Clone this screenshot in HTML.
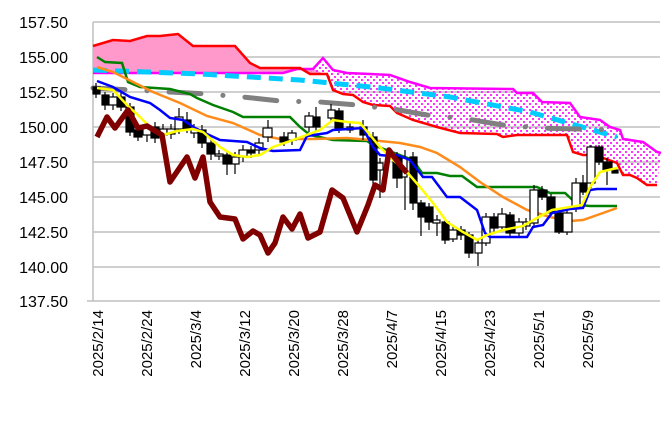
<!DOCTYPE html>
<html><head><meta charset="utf-8"><style>
body{margin:0;background:#fff}
svg{display:block;font-family:"Liberation Sans",sans-serif}
</style></head><body>
<svg width="664" height="438" viewBox="0 0 664 438">
<defs>
<pattern id="dots" width="6" height="6" patternUnits="userSpaceOnUse">
<rect x="1" y="1" width="2" height="2" fill="#ff33ff"/><rect x="4" y="4" width="2" height="2" fill="#ff33ff"/>
</pattern>
</defs>
<g stroke="#bfbfbf" stroke-width="1.5">
<line x1="93" y1="22" x2="660" y2="22"/><line x1="93" y1="57" x2="660" y2="57"/><line x1="93" y1="92" x2="660" y2="92"/><line x1="93" y1="127" x2="660" y2="127"/><line x1="93" y1="162" x2="660" y2="162"/><line x1="93" y1="197" x2="660" y2="197"/><line x1="93" y1="232" x2="660" y2="232"/><line x1="93" y1="267" x2="660" y2="267"/><line x1="87" y1="301" x2="660" y2="301"/>
<line x1="93" y1="22" x2="93" y2="301"/>
</g>
<g font-size="16" fill="#000" text-anchor="end">
<text x="68" y="28">157.50</text><text x="68" y="63">155.00</text><text x="68" y="98">152.50</text><text x="68" y="133">150.00</text><text x="68" y="168">147.50</text><text x="68" y="203">145.00</text><text x="68" y="238">142.50</text><text x="68" y="273">140.00</text><text x="68" y="307">137.50</text>
</g>
<g font-size="15" fill="#000" text-anchor="end">
<text transform="translate(103,310) rotate(-90)">2025/2/14</text>
<text transform="translate(152,310) rotate(-90)">2025/2/24</text>
<text transform="translate(201,310) rotate(-90)">2025/3/4</text>
<text transform="translate(250,310) rotate(-90)">2025/3/12</text>
<text transform="translate(299,310) rotate(-90)">2025/3/20</text>
<text transform="translate(348,310) rotate(-90)">2025/3/28</text>
<text transform="translate(397,310) rotate(-90)">2025/4/7</text>
<text transform="translate(446,310) rotate(-90)">2025/4/15</text>
<text transform="translate(495,310) rotate(-90)">2025/4/23</text>
<text transform="translate(544,310) rotate(-90)">2025/5/1</text>
<text transform="translate(593,310) rotate(-90)">2025/5/9</text>
</g>
<!-- cloud pink (red above magenta) -->
<polygon fill="#ff99cc" points="93,46 113,40 130,41 147,36 160,36 178,34 193,46 235,46 250,63 260,68 300,68 310,74 322,73 322,73 313,69 297,69 283,73 93,73"/>
<!-- cloud dotted (magenta above red) -->
<polygon fill="url(#dots)" points="313,69 323,58 333,70 347,73 370,74 390,75 410,82 430,88 513,89 517,93 533,93 542,102 570,103 580,117 600,120 610,127 620,130 623,139 643,142 657,152 661,153 657,185 647,185 637,178 630,175 623,175 617,163 603,158 593,155 583,155 573,152 567,135 517,135 503,137 497,134 460,133 437,127 413,120 397,113 390,106 373,105 363,102 353,95 343,94 333,90 327,74 310,74"/>
<polyline fill="none" stroke="#ff00ff" stroke-width="2.5" points="93,73 283,73 297,69 313,69 323,58 333,70 347,73 370,74 390,75 410,82 430,88 513,89 517,93 533,93 542,102 570,103 580,117 600,120 610,127 620,130 623,139 643,142 657,152 661,153"/>
<polyline fill="none" stroke="#ff0000" stroke-width="2.5" points="93,46 113,40 130,41 147,36 160,36 178,34 193,46 235,46 250,63 260,68 300,68 310,74 327,74 333,90 343,94 353,95 363,102 373,105 390,106 397,113 413,120 437,127 460,133 497,134 503,137 517,135 567,135 573,152 583,155 593,155 603,158 617,163 623,175 630,175 637,178 647,185 657,185"/>
<polyline fill="none" stroke="#00ccff" stroke-width="5" stroke-dasharray="14 8" points="93,70 200,74 300,80 380,88 450,97 530,112 617,137"/>
<polyline fill="none" stroke="#808080" stroke-width="5" stroke-linecap="round" stroke-dasharray="32 22 0.1 22" points="93,88 133,90 170,92 207,94 243,97 280,101 320,102 357,105 373,107 393,109 427,115 467,119 503,125 540,128 577,129 617,130"/>
<polyline fill="none" stroke="#008000" stroke-width="2.5" points="97,57 105,62 122,63 128,82 140,87 170,89 190,94 197,98 213,105 233,112 243,117 290,117 300,127 310,135 333,140 367,141 373,145 413,160 422,173 437,173 450,176 462,176 477,187 537,187 550,193 565,193 578,205 590,206 617,206"/>
<polyline fill="none" stroke="#ff8c1a" stroke-width="2.5" points="97,67 113,72 133,82 153,92 180,103 207,116 233,123 260,135 280,139 313,139 347,138 370,140 400,143 420,147 437,153 460,167 480,182 503,197 527,210 550,217 570,221 583,220 603,213 617,208"/>
<!-- candles -->
<g stroke="#000" stroke-width="1.2">
<g fill="#000">
<line x1="96" y1="83" x2="96" y2="98"/><rect x="93" y="87" width="7" height="7"/>
<line x1="105" y1="92" x2="105" y2="110"/><rect x="102" y="95" width="7" height="10"/>
<line x1="121" y1="93" x2="121" y2="111"/><rect x="117" y="97" width="8" height="10"/>
<line x1="130" y1="103" x2="130" y2="136"/><rect x="126" y="107" width="8" height="25"/>
<line x1="138" y1="126" x2="138" y2="141"/><rect x="134" y="130" width="8" height="7"/>
<line x1="155" y1="122" x2="155" y2="143"/><rect x="151" y="127" width="8" height="11"/>
<line x1="187" y1="112" x2="187" y2="133"/><rect x="183" y="120" width="8" height="9"/>
<line x1="202" y1="125" x2="202" y2="148"/><rect x="198" y="130" width="8" height="13"/>
<line x1="211" y1="140" x2="211" y2="160"/><rect x="207" y="143" width="8" height="11"/>
<line x1="227" y1="150" x2="227" y2="175"/><rect x="223" y="155" width="8" height="9"/>
<line x1="251" y1="146" x2="251" y2="158"/><rect x="247" y="150" width="8" height="3"/>
<line x1="284" y1="132" x2="284" y2="146"/><rect x="280" y="137" width="8" height="5"/>
<line x1="316" y1="107" x2="316" y2="131"/><rect x="313" y="117" width="7" height="10"/>
<line x1="339" y1="108" x2="339" y2="133"/><rect x="335" y="111" width="8" height="17"/>
<line x1="363" y1="120" x2="363" y2="140"/><rect x="360" y="127" width="7" height="8"/>
<line x1="373" y1="132" x2="373" y2="185"/><rect x="370" y="137" width="7" height="43"/>
<line x1="397" y1="152" x2="397" y2="188"/><rect x="393" y="157" width="9" height="21"/>
<line x1="413" y1="152" x2="413" y2="210"/><rect x="410" y="157" width="7" height="46"/>
<line x1="421" y1="200" x2="421" y2="236"/><rect x="418" y="203" width="7" height="14"/>
<line x1="429" y1="203" x2="429" y2="230"/><rect x="425" y="207" width="8" height="15"/>
<line x1="445" y1="218" x2="445" y2="244"/><rect x="442" y="222" width="7" height="18"/>
<line x1="461" y1="226" x2="461" y2="240"/><rect x="457" y="230" width="8" height="5"/>
<line x1="469" y1="232" x2="469" y2="258"/><rect x="465" y="235" width="8" height="18"/>
<line x1="494" y1="213" x2="494" y2="232"/><rect x="490" y="217" width="8" height="11"/>
<line x1="510" y1="212" x2="510" y2="236"/><rect x="506" y="215" width="8" height="18"/>
<line x1="542" y1="186" x2="542" y2="200"/><rect x="538" y="190" width="9" height="7"/>
<line x1="551" y1="194" x2="551" y2="216"/><rect x="547" y="197" width="8" height="16"/>
<line x1="559" y1="210" x2="559" y2="234"/><rect x="555" y="213" width="8" height="19"/>
<line x1="583" y1="175" x2="583" y2="195"/><rect x="580" y="183" width="7" height="9"/>
<line x1="599" y1="145" x2="599" y2="165"/><rect x="595" y="147" width="8" height="15"/>
<line x1="607" y1="158" x2="607" y2="185"/><rect x="603" y="162" width="9" height="8"/>
<rect x="612" y="170" width="6" height="3"/>
</g>
<g fill="#fff">
<line x1="113" y1="93" x2="113" y2="110"/><rect x="109" y="97" width="8" height="8"/>
<line x1="147" y1="123" x2="147" y2="142"/><rect x="143" y="128" width="8" height="7"/>
<line x1="163" y1="124" x2="163" y2="140"/><rect x="160" y="129" width="7" height="6"/>
<line x1="171" y1="124" x2="171" y2="139"/><rect x="167" y="129" width="8" height="5"/>
<line x1="179" y1="108" x2="179" y2="134"/><rect x="175" y="117" width="8" height="12"/>
<line x1="194" y1="124" x2="194" y2="138"/><rect x="191" y="129" width="7" height="4"/>
<line x1="219" y1="150" x2="219" y2="160"/><rect x="215" y="154" width="8" height="2"/>
<line x1="235" y1="152" x2="235" y2="174"/><rect x="232" y="157" width="7" height="7"/>
<line x1="243" y1="145" x2="243" y2="162"/><rect x="239" y="150" width="8" height="7"/>
<line x1="259" y1="138" x2="259" y2="155"/><rect x="255" y="143" width="8" height="7"/>
<line x1="268" y1="120" x2="268" y2="142"/><rect x="263" y="128" width="9" height="9"/>
<line x1="292" y1="130" x2="292" y2="145"/><rect x="288" y="133" width="8" height="7"/>
<line x1="309" y1="112" x2="309" y2="132"/><rect x="305" y="116" width="8" height="11"/>
<line x1="331" y1="104" x2="331" y2="122"/><rect x="328" y="110" width="7" height="8"/>
<line x1="350" y1="122" x2="350" y2="133"/><rect x="347" y="127" width="6" height="3"/>
<line x1="380" y1="158" x2="380" y2="198"/><rect x="377" y="163" width="6" height="7"/>
<line x1="405" y1="150" x2="405" y2="210"/><rect x="402" y="158" width="5" height="19"/>
<line x1="437" y1="215" x2="437" y2="236"/><rect x="433" y="220" width="7" height="3"/>
<line x1="453" y1="225" x2="453" y2="242"/><rect x="449" y="230" width="8" height="9"/>
<line x1="478" y1="240" x2="478" y2="266"/><rect x="475" y="243" width="7" height="10"/>
<line x1="486" y1="213" x2="486" y2="246"/><rect x="482" y="217" width="8" height="26"/>
<line x1="502" y1="208" x2="502" y2="230"/><rect x="498" y="214" width="8" height="13"/>
<line x1="519" y1="218" x2="519" y2="236"/><rect x="515" y="222" width="8" height="11"/>
<line x1="526" y1="218" x2="526" y2="230"/><rect x="523" y="222" width="7" height="4"/>
<line x1="534" y1="185" x2="534" y2="226"/><rect x="530" y="190" width="8" height="33"/>
<line x1="567" y1="208" x2="567" y2="235"/><rect x="563" y="213" width="9" height="19"/>
<line x1="576" y1="178" x2="576" y2="212"/><rect x="572" y="183" width="8" height="25"/>
<line x1="591" y1="145" x2="591" y2="188"/><rect x="587" y="147" width="8" height="36"/>
</g>
</g>
<polyline fill="none" stroke="#0000ff" stroke-width="2.5" points="97,81 113,87 130,97 150,103 160,110 170,118 183,120 195,128 207,134 220,140 247,142 260,148 273,151 300,150 307,136 327,133 333,130 363,128 373,147 380,155 390,156 397,155 410,160 423,177 432,177 447,197 460,197 477,210 485,233 490,237 527,237 533,227 543,225 552,213 570,209 583,208 590,190 597,189 617,189"/>
<polyline fill="none" stroke="#ffff00" stroke-width="2.5" points="97,88 113,90 127,105 140,117 150,127 163,135 177,131 193,129 203,132 220,147 233,155 247,157 260,155 273,147 293,140 320,130 333,120 347,122 360,123 370,135 380,147 393,160 407,172 420,187 433,203 447,222 463,232 477,240 487,235 503,230 523,226 537,218 552,210 570,207 582,205 590,187 600,172 617,168"/>
<polyline fill="none" stroke="#800000" stroke-width="5.5" stroke-linejoin="round" points="97,137 107,117 115,128 128,110 138,128 147,126 162,135 170,182 187,157 195,178 203,157 210,202 220,217 235,219 243,239 253,231 260,235 268,253 275,243 283,217 292,229 300,214 308,238 320,232 332,190 343,198 357,232 368,205 375,185 383,190 389,150 400,165 407,173"/>
</svg>
</body></html>
